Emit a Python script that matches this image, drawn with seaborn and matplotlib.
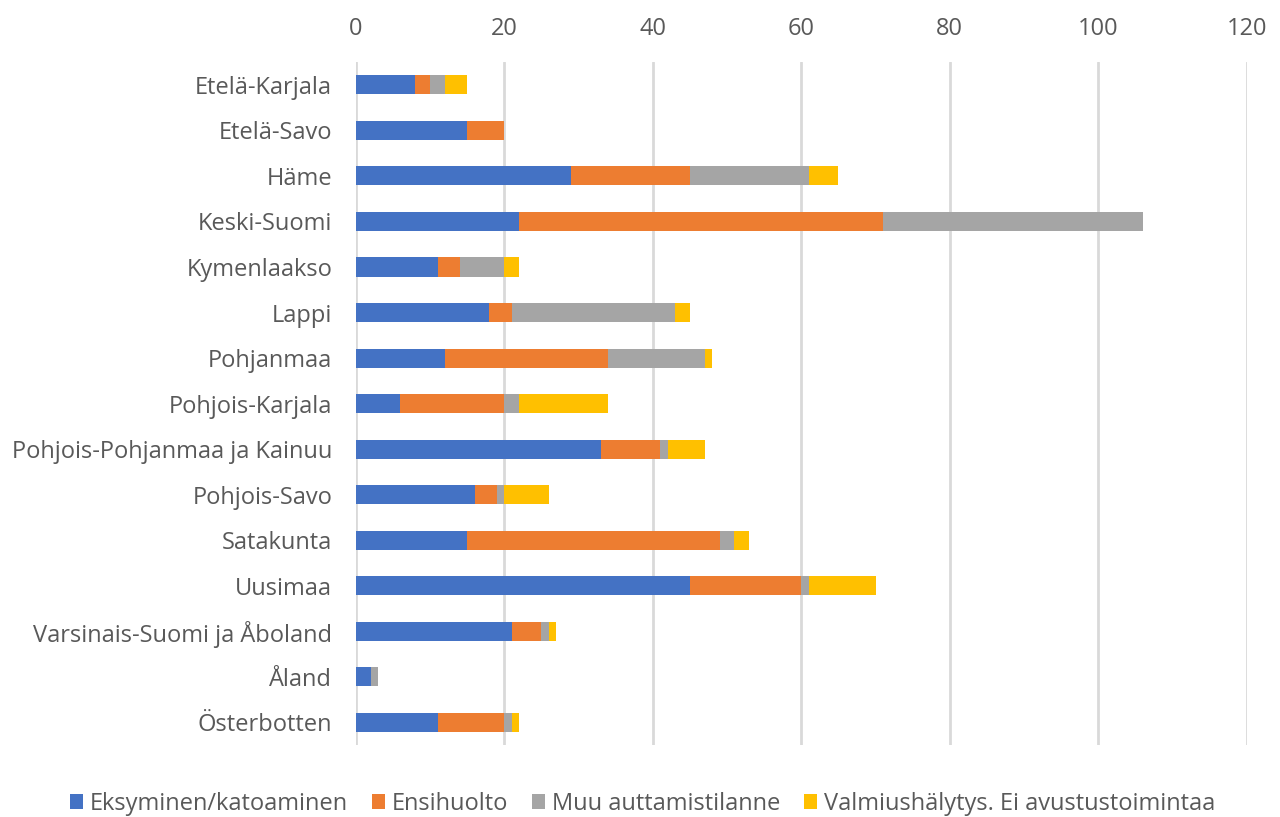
import matplotlib
matplotlib.use("Agg")
import matplotlib.pyplot as plt
import seaborn as sns
import pandas as pd
import numpy as np

regions = ["Etelä-Karjala", "Etelä-Savo", "Häme", "Keski-Suomi", "Kymenlaakso",
           "Lappi", "Pohjanmaa", "Pohjois-Karjala", "Pohjois-Pohjanmaa ja Kainuu",
           "Pohjois-Savo", "Satakunta", "Uusimaa", "Varsinais-Suomi ja Åboland",
           "Åland", "Österbotten"]

eksyminen = [8, 15, 29, 22, 11, 18, 12, 6, 33, 16, 15, 45, 21, 2, 11]
ensihuolto = [2, 5, 16, 49, 3, 3, 22, 14, 8, 3, 34, 15, 4, 0, 9]
muu = [2, 0, 16, 35, 6, 22, 13, 2, 1, 1, 2, 1, 1, 1, 1]
valmius = [3, 0, 4, 0, 2, 2, 1, 12, 5, 6, 2, 9, 1, 0, 1]

series_names = ["Eksyminen/katoaminen", "Ensihuolto", "Muu auttamistilanne",
                "Valmiushälytys. Ei avustustoimintaa"]
colors = ["#4472C4", "#ED7D31", "#A5A5A5", "#FFC000"]

df = pd.DataFrame({"region": regions,
                   series_names[0]: eksyminen,
                   series_names[1]: ensihuolto,
                   series_names[2]: muu,
                   series_names[3]: valmius})

# cumulative totals so the stacks can be drawn back to front
cum = df[series_names].cumsum(axis=1)

sns.set_style("white")
plt.rcParams["font.family"] = ["Open Sans", "DejaVu Sans"]

fig = plt.figure(figsize=(12.8, 8.17), dpi=100)
ax = fig.add_axes([0.278, 0.088, 0.696, 0.836])

for name, color in reversed(list(zip(series_names, colors))):
    sns.barplot(x=cum[name], y=df["region"], color=color, orient="h",
                width=0.42, linewidth=0, saturation=1, ax=ax, label=name, zorder=3)

ax.set_xlim(0, 120)
ax.set_xticks(np.arange(0, 121, 20))
ax.xaxis.tick_top()
ax.grid(axis="x", color="#d9d9d9", linewidth=2, zorder=0)
ax.set_axisbelow(True)
for s in ax.spines.values():
    s.set_visible(False)
ax.tick_params(axis="both", length=0, labelsize=17, colors="#595959")
ax.tick_params(axis="y", pad=17)
ax.tick_params(axis="x", pad=15)
ax.set_xlabel("")
ax.set_ylabel("")

handles, labels = ax.get_legend_handles_labels()
order = [labels.index(n) for n in series_names]
ax.legend([handles[i] for i in order], [labels[i] for i in order],
          loc="center", bbox_to_anchor=(0.322, -0.086),
          ncol=4, frameon=False, fontsize=17, labelcolor="#595959",
          handlelength=0.55, handleheight=0.55, handletextpad=0.3, columnspacing=1.0)

fig.savefig("out.png", dpi=100)
